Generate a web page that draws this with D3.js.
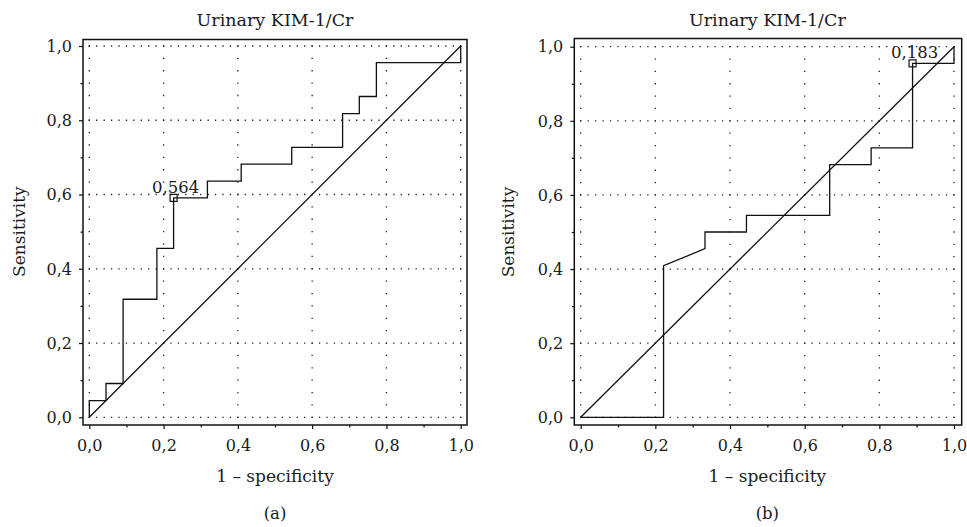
<!DOCTYPE html>
<html><head><meta charset="utf-8">
<script src="https://cdn.jsdelivr.net/npm/d3@7"></script>
<style>body{margin:0;background:#fff} svg text{font-family:"DejaVu Serif",serif;fill:#1a1a1a}</style>
</head><body><svg id="c" width="967" height="527"></svg>
<script>
// ---- data ----
const tickValues = [0, 0.2, 0.4, 0.6, 0.8, 1.0];
const tickLabels = ["0,0", "0,2", "0,4", "0,6", "0,8", "1,0"];
const minorTickValues = [0.1, 0.3, 0.5, 0.7, 0.9];
const titles = ["Urinary KIM-1/Cr", "Urinary KIM-1/Cr"];
const panelLabels = ["(a)", "(b)"];
const xTitle = "1 – specificity";
const yTitle = "Sensitivity";

const rocA_fpr = [0, 0, 0.045, 0.045, 0.091, 0.091, 0.182, 0.182, 0.227, 0.227, 0.318, 0.318, 0.409, 0.409, 0.545, 0.545, 0.682, 0.682, 0.727, 0.727, 0.773, 0.773, 1.0, 1.0];
const rocA_tpr = [0, 0.045, 0.045, 0.091, 0.091, 0.318, 0.318, 0.455, 0.455, 0.591, 0.591, 0.636, 0.636, 0.682, 0.682, 0.727, 0.727, 0.818, 0.818, 0.864, 0.864, 0.955, 0.955, 1.0];

const rocB_fpr = [0, 0.222, 0.222, 0.333, 0.333, 0.444, 0.444, 0.667, 0.667, 0.778, 0.778, 0.889, 0.889, 1.0, 1.0];
const rocB_tpr = [0, 0, 0.409, 0.455, 0.5, 0.5, 0.545, 0.545, 0.682, 0.682, 0.727, 0.727, 0.955, 0.955, 1.0];

const cutoffFpr = [0.227, 0.889];
const cutoffTpr = [0.591, 0.955];
const cutoffLabels = ["0,564", "0,183"];

const diagFpr = [0, 1];
const diagTpr = [0, 1];

// ---- layout ----
const layouts = [
  {fl: 83, fr: 467, ft: 39.5, fb: 425, x0: 89.3, x1: 460.7, y0: 417.3, y1: 46, yt: 25},
  {fl: 574.3, fr: 961.7, ft: 38.5, fb: 425, x0: 580.7, x1: 954, y0: 417.3, y1: 46.7, yt: 514}
];
const curves = [[rocA_fpr, rocA_tpr], [rocB_fpr, rocB_tpr]];

const svg = d3.select("#c");
const ink = "#111";

layouts.forEach((L, i) => {
  const x = d3.scaleLinear().domain([0, 1]).range([L.x0, L.x1]);
  const y = d3.scaleLinear().domain([0, 1]).range([L.y0, L.y1]);
  const g = svg.append("g");

  // dotted grid
  const ph = (x(0.2) - x(0)) / 10;
  const pv = (y(0) - y(0.2)) / 6;
  const dot = 1.3;
  const nh = Math.floor((L.x0 - L.fl) / ph);
  const nv = Math.floor((L.fb - L.y0) / pv);
  g.selectAll(".hg").data(tickValues).join("line")
    .attr("x1", L.x0 - dot / 2 - nh * ph).attr("x2", L.fr - 1)
    .attr("y1", d => y(d)).attr("y2", d => y(d))
    .attr("stroke", "#222").attr("stroke-width", 1.3)
    .attr("stroke-dasharray", `${dot} ${ph - dot}`);
  g.selectAll(".vg").data(tickValues).join("line")
    .attr("x1", d => x(d)).attr("x2", d => x(d))
    .attr("y1", L.y0 + dot / 2 + nv * pv).attr("y2", L.ft + 1)
    .attr("stroke", "#222").attr("stroke-width", 1.3)
    .attr("stroke-dasharray", `${dot} ${pv - dot}`);

  // frame
  g.append("rect").attr("x", L.fl).attr("y", L.ft)
    .attr("width", L.fr - L.fl).attr("height", L.fb - L.ft)
    .attr("fill", "none").attr("stroke", ink).attr("stroke-width", 1.5);

  // axes
  const gx = g.append("g").attr("transform", `translate(0,${L.fb})`)
    .call(d3.axisBottom(x).tickValues(tickValues).tickSize(4).tickFormat((d, k) => tickLabels[k]));
  const gxm = g.append("g").attr("transform", `translate(0,${L.fb})`)
    .call(d3.axisBottom(x).tickValues(minorTickValues).tickSize(2.5).tickFormat(""));
  const gy = g.append("g").attr("transform", `translate(${L.fl},0)`)
    .call(d3.axisLeft(y).tickValues(tickValues).tickSize(4).tickFormat((d, k) => tickLabels[k]));
  const gym = g.append("g").attr("transform", `translate(${L.fl},0)`)
    .call(d3.axisLeft(y).tickValues(minorTickValues).tickSize(2.5).tickFormat(""));
  [gx, gxm, gy, gym].forEach(a => {
    a.select(".domain").remove();
    a.attr("font-family", null).attr("font-size", null);
    a.selectAll("line").attr("stroke", ink).attr("stroke-width", 1.2);
  });
  gx.selectAll("text").attr("y", 26).attr("dy", 0).style("font-size", "16px");
  gy.selectAll("text").attr("x", -11).attr("dy", "0.33em").style("font-size", "16px");

  // diagonal
  const line = d3.line().x(d => x(d[0])).y(d => y(d[1]));
  g.append("path").attr("d", line(d3.zip(diagFpr, diagTpr)))
    .attr("fill", "none").attr("stroke", ink).attr("stroke-width", 1.3);

  // ROC curve
  const [fx, ty] = curves[i];
  g.append("path").attr("d", line(d3.zip(fx, ty)))
    .attr("fill", "none").attr("stroke", ink).attr("stroke-width", 1.3)
    .attr("stroke-linejoin", "miter");

  // cutoff marker
  const cx = x(cutoffFpr[i]), cy = y(cutoffTpr[i]);
  g.append("rect").attr("x", cx - 3.5).attr("y", cy - 3.5).attr("width", 7).attr("height", 7)
    .attr("fill", "none").attr("stroke", ink).attr("stroke-width", 1.2);
  g.append("text").attr("x", cx + 2).attr("y", cy - 5).attr("text-anchor", "middle")
    .style("font-size", "16.5px").text(cutoffLabels[i]);

  // titles
  const xc = (L.x0 + L.x1) / 2;
  g.append("text").attr("x", xc).attr("y", 26).attr("text-anchor", "middle")
    .style("font-size", "17.5px").text(titles[i]);
  g.append("text").attr("x", xc).attr("y", 482).attr("text-anchor", "middle")
    .style("font-size", "17px").text(xTitle);
  g.append("text").attr("x", xc).attr("y", 519).attr("text-anchor", "middle")
    .style("font-size", "16.5px").text(panelLabels[i]);
  g.append("text").attr("transform", `translate(${L.yt},${(L.y0 + L.y1) / 2}) rotate(-90)`)
    .attr("text-anchor", "middle").style("font-size", "17px").text(yTitle);
});
</script>
</body></html>
